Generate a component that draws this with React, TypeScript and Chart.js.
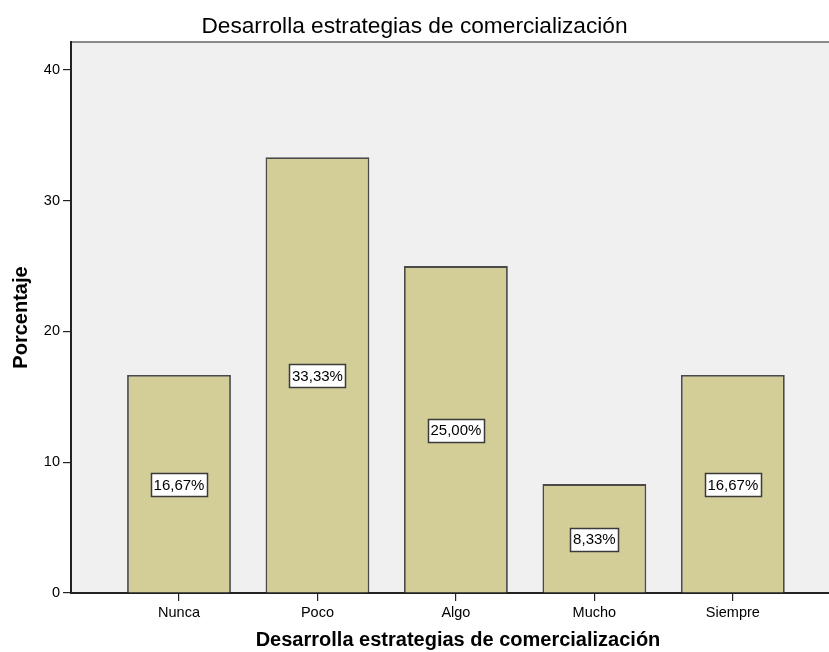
import { useEffect, useRef } from "react";
import { Chart, registerables } from "chart.js";

Chart.register(...registerables);

const CATEGORIES = ["Nunca", "Poco", "Algo", "Mucho", "Siempre"];
const PERCENTAGES = [16.67, 33.33, 25.0, 8.33, 16.67];
const Y_TICKS = [0, 10, 20, 30, 40];
const TITLE = "Desarrolla estrategias de comercialización";
const X_TITLE = "Desarrolla estrategias de comercialización";
const Y_TITLE = "Porcentaje";

const FONT = "'Liberation Sans', Arial, sans-serif";
const INK = "#000000";
const AXIS = "#222222";

// Grey plot background plus the thin frame line along the top edge.
const plotBackground = {
  id: "plotBackground",
  beforeDraw(chart: any) {
    const { ctx, chartArea: a } = chart;
    ctx.save();
    ctx.fillStyle = "#F0F0F0";
    ctx.fillRect(a.left, a.top, a.right - a.left, a.bottom - a.top);
    ctx.strokeStyle = "#8a8a8a";
    ctx.lineWidth = 2;
    ctx.beginPath();
    ctx.moveTo(a.left, a.top);
    ctx.lineTo(a.right, a.top);
    ctx.stroke();
    ctx.restore();
  },
};

// Boxed percentage label in the middle of each bar.
const valueLabels = {
  id: "valueLabels",
  afterDatasetsDraw(chart: any) {
    const { ctx } = chart;
    const meta = chart.getDatasetMeta(0);
    ctx.save();
    ctx.font = `15px ${FONT}`;
    ctx.textAlign = "center";
    ctx.textBaseline = "middle";
    meta.data.forEach((bar: any, i: number) => {
      const { x, y, base } = bar.getProps(["x", "y", "base"], true);
      const cy = (y + base) / 2 + 1;
      const text = PERCENTAGES[i].toFixed(2).replace(".", ",") + "%";
      const w = Math.round(ctx.measureText(text).width + 5);
      const h = 23;
      const left = Math.round(x - w / 2) + 0.5;
      const top = Math.round(cy - h / 2) + 0.5;
      ctx.fillStyle = "#ffffff";
      ctx.fillRect(left, top, w, h);
      ctx.strokeStyle = "#3a3a3a";
      ctx.lineWidth = 1.5;
      ctx.strokeRect(left, top, w, h);
      ctx.fillStyle = INK;
      ctx.fillText(text, x, cy + 1);
    });
    ctx.restore();
  },
};

export default function App() {
  const ref = useRef<HTMLCanvasElement>(null);

  useEffect(() => {
    document.body.style.margin = "0";
    const chart = new Chart(ref.current as HTMLCanvasElement, {
      type: "bar",
      data: {
        datasets: [
          {
            data: PERCENTAGES.map((v, i) => ({ x: i, y: v })),
            backgroundColor: "#D3CE98",
            borderColor: "#4a4a4a",
            borderWidth: 1.8,
            barPercentage: 0.75,
            categoryPercentage: 1,
          },
        ],
      },
      options: {
        animation: false,
        responsive: false,
        layout: { padding: { left: -16, right: 0, top: 0, bottom: 0 } },
        plugins: {
          legend: { display: false },
          tooltip: { enabled: false },
          title: {
            display: true,
            text: TITLE,
            color: INK,
            fullSize: true,
            font: { family: FONT, size: 22.7, weight: "normal" },
            padding: { top: 13, bottom: 1.76 },
          },
        },
        scales: {
          x: {
            type: "linear",
            offset: false,
            min: -0.78,
            max: 4.81,
            afterBuildTicks: (s: any) => {
              s.ticks = CATEGORIES.map((_, i) => ({ value: i }));
            },
            afterFit: (s: any) => {
              s.height = 59;
            },
            ticks: {
              callback: (v: any) => CATEGORIES[v] ?? "",
              font: { family: FONT, size: 14.5 },
              color: INK,
              padding: 3,
              autoSkip: false,
              maxRotation: 0,
            },
            grid: {
              offset: false,
              drawOnChartArea: false,
              drawTicks: true,
              tickLength: 8,
              color: AXIS,
              lineWidth: 1.2,
            },
            border: { display: true, color: AXIS, width: 2 },
            title: {
              display: true,
              text: X_TITLE,
              color: INK,
              font: { family: FONT, size: 20, weight: "bold" },
              padding: { top: 0, bottom: 0 },
            },
          },
          y: {
            min: 0,
            max: 42.14,
            afterBuildTicks: (s: any) => {
              s.ticks = Y_TICKS.map((v) => ({ value: v }));
            },
            afterFit: (s: any) => {
              s.width = 87;
            },
            ticks: {
              font: { family: FONT, size: 14.5 },
              color: INK,
              padding: 3,
            },
            grid: {
              drawOnChartArea: false,
              drawTicks: true,
              tickLength: 8,
              color: AXIS,
              lineWidth: 1.2,
            },
            border: { display: true, color: AXIS, width: 2 },
            title: {
              display: true,
              text: Y_TITLE,
              color: INK,
              font: { family: FONT, size: 20, weight: "bold" },
              padding: { top: 25, bottom: 0 },
            },
          },
        },
      },
      plugins: [plotBackground, valueLabels],
    });
    return () => chart.destroy();
  }, []);

  return (
    <div style={{ width: 829, height: 652, overflow: "hidden" }}>
      <canvas ref={ref} width={845} height={652} style={{ display: "block" }} />
    </div>
  );
}
